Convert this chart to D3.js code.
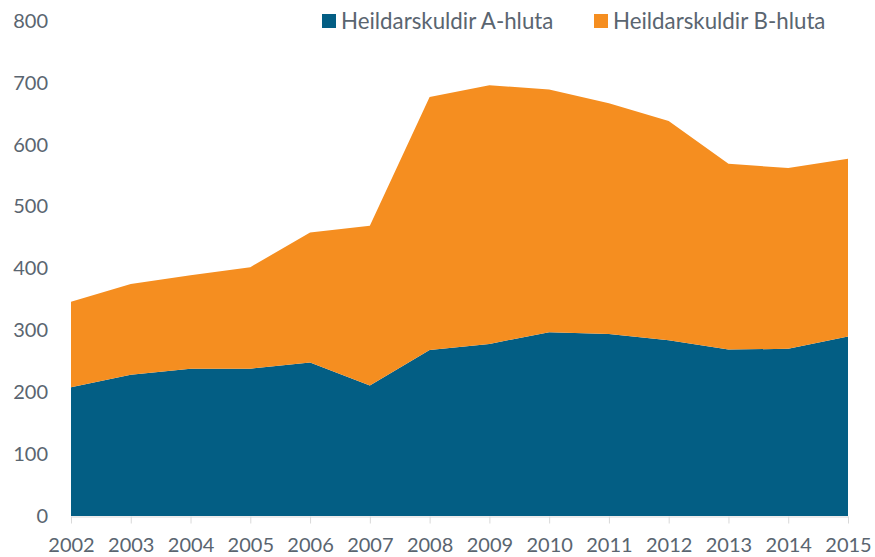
<!DOCTYPE html>
<html>
<head>
<meta charset="utf-8">
<script src="https://cdn.jsdelivr.net/npm/d3@7"></script>
<style>
  body { margin: 0; background: #fff; }
  svg { display: block; font-family: Lato, 'Open Sans', sans-serif; }
</style>
</head>
<body>
<svg id="chart" width="875" height="557"></svg>
<script>
const years = [2002, 2003, 2004, 2005, 2006, 2007, 2008, 2009, 2010, 2011, 2012, 2013, 2014, 2015];
const seriesNames = ['Heildarskuldir A-hluta', 'Heildarskuldir B-hluta'];
const aHluta = [208, 228, 238, 238, 248, 211, 268, 278, 297, 294, 284, 269, 270, 290];
const bHluta = [138, 147, 151, 164, 210, 258, 409, 418, 392, 373, 354, 300, 292, 287];
const yTicks = [0, 100, 200, 300, 400, 500, 600, 700, 800];
const colors = ['#035e84', '#f58e20'];

const textColor = '#5a6570';
const svg = d3.select('#chart');

const x = d3.scaleLinear().domain([2002, 2015]).range([71, 848]);
const y = d3.scaleLinear().domain([0, 800]).range([516, 20.8]);

// stack data
const rows = years.map((yr, i) => ({ year: yr, a: aHluta[i], b: bHluta[i] }));
const stacked = d3.stack().keys(['a', 'b'])(rows);

const area = d3.area()
  .x(d => x(d.data.year))
  .y0(d => y(d[0]))
  .y1(d => y(d[1]));

svg.append('g')
  .selectAll('path')
  .data(stacked)
  .enter()
  .append('path')
  .attr('d', area)
  .attr('fill', (d, i) => colors[i]);

// y axis labels (no line)
const yAxis = svg.append('g')
  .attr('transform', 'translate(48,0)')
  .call(d3.axisLeft(y).tickValues(yTicks).tickSize(0).tickPadding(0));
yAxis.select('.domain').remove();
yAxis.selectAll('text')
  .attr('fill', textColor)
  .attr('font-size', '20px')
  .attr('font-family', 'Lato, sans-serif');

// x axis
const xAxis = svg.append('g')
  .attr('transform', 'translate(0,516.5)')
  .call(d3.axisBottom(x).tickValues(years).tickFormat(d3.format('d')).tickSize(7).tickSizeOuter(0).tickPadding(14));
xAxis.select('.domain').attr('stroke', '#d9d9d9');
xAxis.selectAll('.tick line').attr('stroke', '#d9d9d9');
xAxis.selectAll('text')
  .attr('fill', textColor)
  .attr('font-size', '20px')
  .attr('font-family', 'Lato, sans-serif');

// legend
const legendX = [322, 594];
const legend = svg.append('g');
const items = legend.selectAll('g')
  .data(seriesNames)
  .enter()
  .append('g')
  .attr('transform', (d, i) => `translate(${legendX[i]}, 0)`);

items.append('rect')
  .attr('x', 0)
  .attr('y', 14)
  .attr('width', 14)
  .attr('height', 14)
  .attr('fill', (d, i) => colors[i]);

items.append('text')
  .attr('x', 19)
  .attr('y', 29)
  .text(d => d)
  .attr('font-size', '22.3px')
  .attr('fill', textColor);
</script>
</body>
</html>
